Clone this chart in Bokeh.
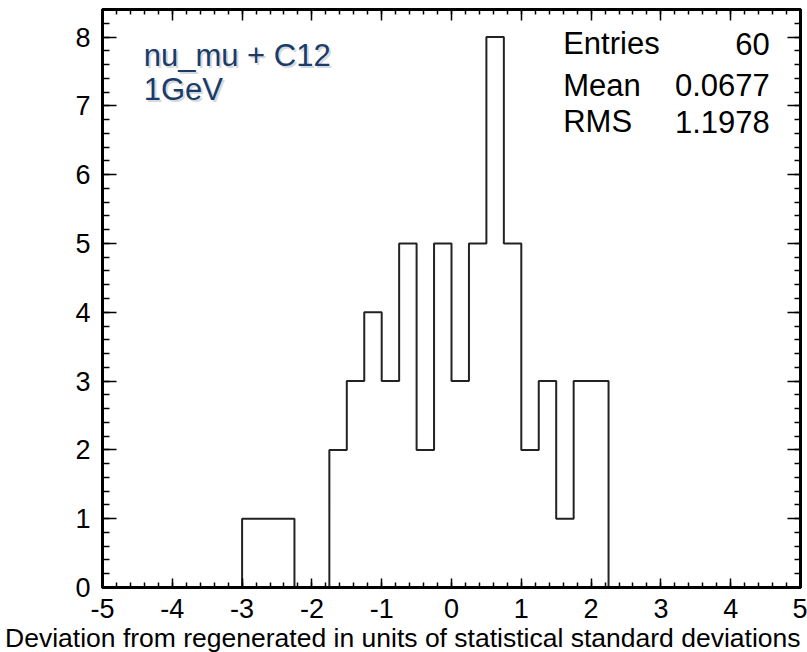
from bokeh.plotting import figure
from bokeh.models import Range1d, LinearAxis, SingleIntervalTicker, Label, CustomJSTickFormatter, Title
from bokeh.embed import file_html
from bokeh.resources import INLINE

# ---- data ----
bin_edges = [-3.0, -2.75, -2.5, -2.25, -2.0, -1.75, -1.5, -1.25, -1.0, -0.75, -0.5,
             -0.25, 0.0, 0.25, 0.5, 0.75, 1.0, 1.25, 1.5, 1.75, 2.0, 2.25]
bin_counts = [1, 1, 1, 0, 0, 2, 3, 4, 3, 5, 2, 5, 3, 5, 8, 5, 2, 3, 1, 3, 3]
stat_names = ["Entries", "Mean", "RMS"]
stat_values = ["60", "0.0677", "1.1978"]
info_lines = ["nu_mu + C12", "1GeV"]
x_title = "Deviation from regenerated in units of statistical standard deviations"

FONT = "Liberation Sans"

p = figure(width=807, height=652, output_backend="svg", toolbar_location=None,
           x_range=Range1d(-5, 5), y_range=Range1d(0, 8.4),
           min_border_left=102, min_border_right=7, min_border_top=9, min_border_bottom=64,
           x_axis_location=None, y_axis_location=None)
p.xgrid.visible = False
p.ygrid.visible = False
p.outline_line_color = "black"
p.outline_line_width = 3
p.background_fill_color = "white"
p.border_fill_color = "white"

def make_axis(labels, major_in, minor_in):
    ax = LinearAxis(ticker=SingleIntervalTicker(interval=1, num_minor_ticks=5))
    ax.major_tick_in = major_in
    ax.major_tick_out = 0
    ax.minor_tick_in = minor_in
    ax.minor_tick_out = 0
    ax.axis_line_width = 3
    ax.major_tick_line_width = 1.5
    ax.minor_tick_line_width = 1.5
    ax.major_tick_line_color = "black"
    ax.minor_tick_line_color = "black"
    ax.major_label_text_font = FONT
    ax.major_label_text_color = "black"
    if labels:
        ax.major_label_text_font_size = "27px"
        ax.formatter = CustomJSTickFormatter(code="return String(Math.round(tick))")
    else:
        ax.formatter = CustomJSTickFormatter(code="return ''")
        ax.major_label_standoff = 0
        ax.major_label_text_font_size = "1px"
    return ax

xb = make_axis(True, 9, 5)
xb.major_label_standoff = 11
p.add_layout(xb, "below")
xt = make_axis(False, 11, 5)
p.add_layout(xt, "above")
yl = make_axis(True, 14, 7)
yl.major_label_standoff = 12
p.add_layout(yl, "left")
yr = make_axis(False, 13, 6)
p.add_layout(yr, "right")

# x title, right-aligned at the frame end
p.add_layout(Title(text=x_title, align="right", text_font=FONT,
                   text_font_size="26.5px", text_font_style="normal",
                   text_color="black", standoff=0), "below")

# histogram outline
p.step(x=[bin_edges[0]] + bin_edges, y=[0] + bin_counts + [0], mode="after",
       line_color="#222222", line_width=2)

# info text with shadow
info_y = [7.73, 7.24]
for txt, yy in zip(info_lines, info_y):
    p.add_layout(Label(x=-4.41, y=yy, x_offset=2, y_offset=-2, text=txt,
                       text_align="left", text_baseline="alphabetic",
                       text_font=FONT, text_font_size="31px",
                       text_color="#b8b8b8", text_alpha=0.55))
    p.add_layout(Label(x=-4.41, y=yy, text=txt, text_align="left",
                       text_baseline="alphabetic", text_font=FONT,
                       text_font_size="31px", text_color="#1a3c6b"))

# stats box
stat_y = [7.90, 7.30, 6.77]
for name, val, yy in zip(stat_names, stat_values, stat_y):
    p.add_layout(Label(x=1.60, y=yy, text=name, text_align="left",
                       text_baseline="alphabetic", text_font=FONT,
                       text_font_size="31px", text_color="black"))
    p.add_layout(Label(x=4.56, y=yy, text=val, text_align="right",
                       text_baseline="alphabetic", text_font=FONT,
                       text_font_size="31px", text_color="black"))

open("out.html", "w").write(file_html(p, INLINE))
